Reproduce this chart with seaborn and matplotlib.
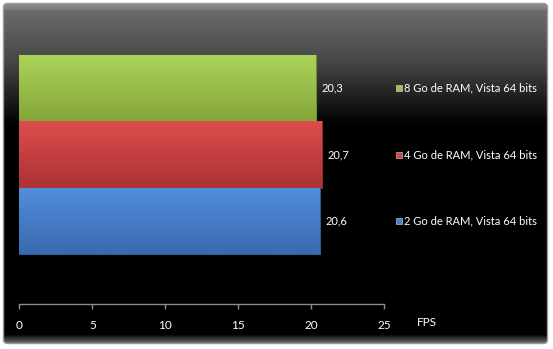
import numpy as np
import pandas as pd
import matplotlib
matplotlib.use("Agg")
import matplotlib.pyplot as plt
import matplotlib.transforms as mtransforms
from matplotlib.patches import FancyBboxPatch
from matplotlib.colors import LinearSegmentedColormap, to_rgb
import seaborn as sns

# ---- data ----
series = ["8 Go de RAM, Vista 64 bits", "4 Go de RAM, Vista 64 bits", "2 Go de RAM, Vista 64 bits"]
fps = [20.3, 20.7, 20.6]
x_ticks = [0, 5, 10, 15, 20, 25]
x_title = "FPS"

# ---- styling ----
colors = ["#9cc44e", "#d24444", "#4680cc"]
grad_top = ["#aad458", "#dc4c4c", "#528edc"]
grad_bot = ["#86a63a", "#ac3434", "#3a6ab0"]

sns.set_theme(style="dark")
plt.rcParams["font.family"] = ["Lato", "DejaVu Sans"]

W, H = 553, 349
fig = plt.figure(figsize=(W / 100, H / 100), dpi=100)
fig.patch.set_facecolor("white")

# background panel with gradient
bg = fig.add_axes([0, 0, 1, 1])
bg.set_xlim(0, W)
bg.set_ylim(H, 0)
bg.axis("off")
rows = np.arange(H)
v = np.interp(rows, [0, 3, 8, 10, 60, 125, 334, 343, 349],
              [0.55, 0.55, 0.50, 0.42, 0.28, 0.0, 0.0, 0.45, 0.45])
img = np.repeat(v[:, None], 2, axis=1)
img = np.stack([img, img, img], axis=2)
im = bg.imshow(img, extent=(0, W, H, 0), aspect="auto", origin="upper", interpolation="bilinear")
frame = FancyBboxPatch((3.5, 3.5), 544, 340, boxstyle="round,pad=0,rounding_size=4",
                       facecolor="none", edgecolor="#9a9a9a", linewidth=1.0, transform=bg.transData)
bg.add_patch(frame)
im.set_clip_path(frame)

# main axes
left = 19.3 / W
right = 384.3 / W
bottom = 1 - 304.3 / H
top = 1 - 5 / H
ax = fig.add_axes([left, bottom, right - left, top - bottom])
ax.patch.set_alpha(0)

df = pd.DataFrame({"series": series, "fps": fps})
sns.barplot(data=df, x="fps", y="series", hue="series", palette=colors,
            orient="h", width=1.0, legend=False, ax=ax, saturation=1)

bars = [p for p in ax.patches if p.get_width() > 0]
for patch, ct, cb in zip(bars, grad_top, grad_bot):
    bb = patch.get_bbox()
    cmap = LinearSegmentedColormap.from_list("g", [ct, cb])
    grad = np.linspace(0, 1, 64)[:, None]
    gi = ax.imshow(grad, cmap=cmap, extent=(bb.x0, bb.x1, bb.y1, bb.y0),
                   origin="upper", aspect="auto", zorder=patch.get_zorder() + 0.1)
    gi.set_clip_path(patch)
    patch.set_edgecolor(tuple(c * 0.85 for c in to_rgb(cb)))
    patch.set_linewidth(0.8)
    # value label just right of bar end
    ax.annotate(f"{patch.get_width():.1f}".replace(".", ","),
                xy=(bb.x1, (bb.y0 + bb.y1) / 2), xytext=(4, 0), textcoords="offset points",
                color="white", fontsize=8, ha="left", va="center", zorder=6)

ax.set_xlim(0, 25)
ax.set_ylim(3.25, -1.25)

for spine in ["top", "left", "right"]:
    ax.spines[spine].set_visible(False)
ax.spines["bottom"].set_visible(True)
ax.spines["bottom"].set_color("#8c8c8c")
ax.spines["bottom"].set_linewidth(1.0)
ax.set_xticks(x_ticks)
ax.set_xticklabels([str(t) for t in x_ticks])
ax.tick_params(axis="x", direction="out", length=3.5, width=1.0, color="#8c8c8c",
               labelcolor="white", labelsize=8.5, pad=7.5, bottom=True)
ax.set_yticks([])
ax.set_xlabel("")
ax.set_ylabel("")
ax.grid(False)

# FPS axis title
fig.text(426.5 / W, 1 - 323 / H, x_title, color="white", fontsize=8.5,
         ha="center", va="center")

# legend entries aligned with bars
trans = mtransforms.blended_transform_factory(fig.transFigure, ax.transData)
for i, (name, c) in enumerate(zip(series, colors)):
    ax.scatter([398.5 / W], [i], marker="s", s=22, color=c, edgecolors="#dddddd",
               linewidths=0.4, transform=trans, clip_on=False, zorder=5)
    ax.text(404 / W, i, name, transform=trans, color="white", fontsize=8,
            ha="left", va="center", clip_on=False)

fig.savefig("out.png", dpi=100)
